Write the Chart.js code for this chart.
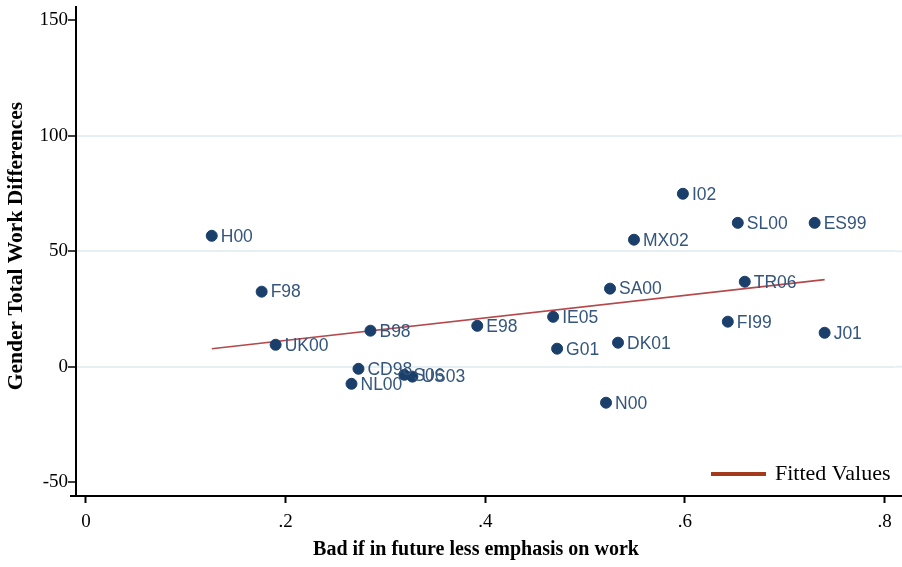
<!DOCTYPE html>
<html>
<head>
<meta charset="utf-8">
<script src="https://cdn.jsdelivr.net/npm/chart.js@4/dist/chart.umd.min.js"></script>
<style>
    html, body { margin: 0; padding: 0; background: #fff; }
    #wrap { width: 902px; height: 567px; }
</style>
</head>
<body>
<div id="wrap"><canvas id="scatterChart" width="902" height="567"></canvas></div>
<script>
// Country codes and values
const countries = ['H00', 'F98', 'UK00', 'B98', 'CD98', 'NL00', 'S06', 'US03', 'E98', 'IE05', 'G01',
    'SA00', 'DK01', 'N00', 'MX02', 'I02', 'SL00', 'ES99', 'TR06', 'FI99', 'J01'];
const emphasisValues = [0.126, 0.176, 0.190, 0.285, 0.273, 0.266, 0.319, 0.327, 0.392, 0.468, 0.472,
    0.525, 0.533, 0.521, 0.549, 0.598, 0.653, 0.730, 0.660, 0.643, 0.740];
const workDiffValues = [56.7, 32.5, 9.5, 15.6, -0.9, -7.4, -3.5, -4.3, 17.7, 21.6, 7.8,
    33.8, 10.4, -15.6, 55.0, 74.9, 62.3, 62.3, 36.8, 19.5, 14.7];

const fittedX = [0.126, 0.740];
const fittedY = [7.8, 37.7];

const xTicks = [0, 0.2, 0.4, 0.6, 0.8];
const xTickLabels = ['0', '.2', '.4', '.6', '.8'];
const yTicks = [-50, 0, 50, 100, 150];
const yGridValues = [0, 50, 100];

const serif = '"Liberation Serif", "DejaVu Serif", serif';
const sans = '"Liberation Sans", Arial, sans-serif';

// labels next to each dot
const pointLabels = {
    id: 'pointLabels',
    afterDatasetsDraw(chart) {
        const meta = chart.getDatasetMeta(0);
        const ctx = chart.ctx;
        ctx.save();
        ctx.font = '17.5px ' + sans;
        ctx.fillStyle = '#34557c';
        ctx.textBaseline = 'middle';
        meta.data.forEach((pt, i) => {
            ctx.fillText(countries[i], pt.x + 9, pt.y + 1);
        });
        ctx.restore();
    }
};

// axis titles, axis/grid line ends and the small legend in the lower right corner
const extras = {
    id: 'extras',
    beforeDatasetsDraw(chart) {
        const ctx = chart.ctx;
        const area = chart.chartArea;
        const y = chart.scales.y;
        ctx.save();
        ctx.strokeStyle = '#e6f0f2';
        ctx.lineWidth = 2;
        yGridValues.forEach(v => {
            const py = y.getPixelForValue(v);
            ctx.beginPath();
            ctx.moveTo(area.right, py);
            ctx.lineTo(chart.width, py);
            ctx.stroke();
        });
        ctx.restore();
    },
    afterDraw(chart) {
        const ctx = chart.ctx;
        const area = chart.chartArea;
        ctx.save();
        ctx.fillStyle = '#000';
        ctx.font = 'bold 20px ' + serif;
        ctx.textAlign = 'center';
        ctx.textBaseline = 'middle';
        ctx.fillText('Bad if in future less emphasis on work', 476, 550);

        ctx.font = 'bold 21.5px ' + serif;
        ctx.translate(16, 246);
        ctx.rotate(-Math.PI / 2);
        ctx.fillText('Gender Total Work Differences', 0, 0);
        ctx.restore();

        // x axis line runs a little past the plot on both sides
        ctx.save();
        ctx.strokeStyle = '#000';
        ctx.lineWidth = 2;
        ctx.beginPath();
        ctx.moveTo(70, area.bottom);
        ctx.lineTo(chart.width, area.bottom);
        ctx.stroke();
        ctx.restore();

        ctx.save();
        ctx.strokeStyle = '#a33a1c';
        ctx.lineWidth = 4;
        ctx.beginPath();
        ctx.moveTo(711, 474);
        ctx.lineTo(766, 474);
        ctx.stroke();
        ctx.fillStyle = '#000';
        ctx.font = '22px ' + serif;
        ctx.textBaseline = 'middle';
        ctx.fillText(chart.data.datasets[1].label, 775, 474);
        ctx.restore();
    }
};

const ctx = document.getElementById('scatterChart');
new Chart(ctx, {
    type: 'scatter',
    data: {
        datasets: [{
            label: 'Countries',
            data: emphasisValues.map((x, i) => ({ x: x, y: workDiffValues[i] })),
            backgroundColor: '#1b3f6b',
            borderColor: '#1b3f6b',
            pointRadius: 5.5,
            pointHoverRadius: 5.5
        }, {
            label: 'Fitted Values',
            type: 'line',
            data: fittedX.map((x, i) => ({ x: x, y: fittedY[i] })),
            borderColor: '#b5484a',
            borderWidth: 1.6,
            pointRadius: 0,
            fill: false
        }]
    },
    options: {
        responsive: false,
        animation: false,
        layout: { padding: { top: 5, right: 0, left: 0, bottom: 0 } },
        plugins: {
            legend: { display: false },
            tooltip: { enabled: false }
        },
        scales: {
            x: {
                type: 'linear',
                min: -0.01,
                max: 0.811,
                afterBuildTicks: scale => { scale.ticks = xTicks.map(v => ({ value: v })); },
                afterFit: scale => {
                    scale.height = 71;
                    scale.paddingLeft = 0;
                    scale.paddingRight = 0;
                },
                ticks: {
                    callback: (v) => xTickLabels[xTicks.indexOf(v)] ?? '',
                    font: { family: serif, size: 19 },
                    color: '#000',
                    padding: 8,
                    maxRotation: 0
                },
                grid: {
                    drawOnChartArea: false,
                    tickLength: 7,
                    tickColor: '#000',
                    tickWidth: 2
                },
                border: { color: '#000', width: 2 }
            },
            y: {
                min: -56,
                max: 156,
                afterBuildTicks: scale => { scale.ticks = yTicks.map(v => ({ value: v })); },
                afterFit: scale => {
                    scale.width = 76;
                    scale.paddingTop = 0;
                    scale.paddingBottom = 0;
                },
                ticks: {
                    font: { family: serif, size: 19 },
                    color: '#000',
                    padding: 0
                },
                grid: {
                    color: c => yGridValues.includes(c.tick && c.tick.value) ? '#e6f0f2' : 'rgba(0,0,0,0)',
                    lineWidth: 2,
                    tickLength: 8,
                    tickColor: '#000',
                    tickWidth: 1.5
                },
                border: { color: '#000', width: 2 }
            }
        }
    },
    plugins: [pointLabels, extras]
});
</script>
</body>
</html>
